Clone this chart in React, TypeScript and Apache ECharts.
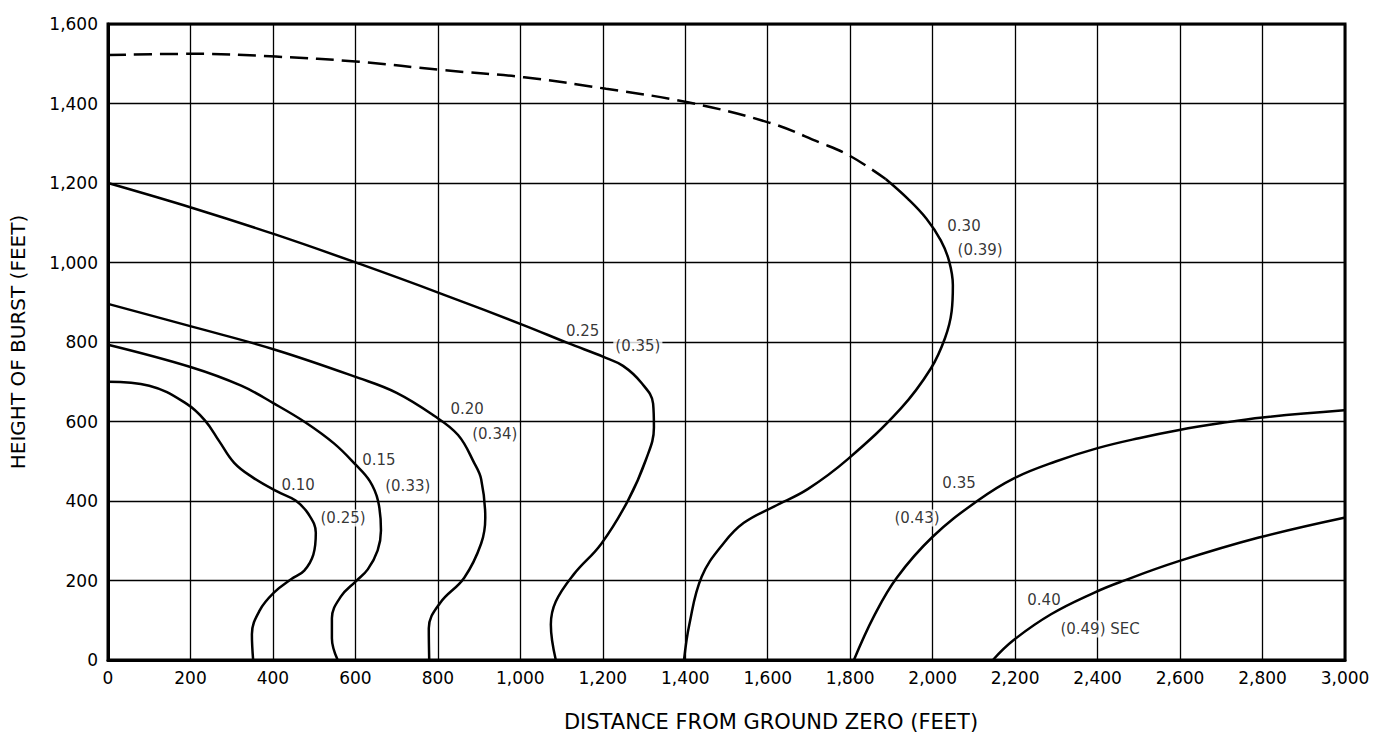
import React, { useEffect, useRef } from "react";
import * as echarts from "echarts";

// Axis ticks (feet)
const xTicks = [0, 200, 400, 600, 800, 1000, 1200, 1400, 1600, 1800, 2000, 2200, 2400, 2600, 2800, 3000];
const yTicks = [0, 200, 400, 600, 800, 1000, 1200, 1400, 1600];

// Contours: [distance from ground zero (ft), height of burst (ft)]
const curve010 = [[0, 700], [100, 690], [190, 645], [235, 603], [270, 550], [306, 496], [350, 460], [410, 424], [455, 401], [487, 366], [504, 320], [498, 265], [476, 225], [444, 203], [403, 170], [368, 125], [349, 65], [352, 0]];
const curve015 = [[0, 793], [200, 737], [323, 690], [403, 645], [480, 597], [548, 545], [600, 492], [635, 450], [655, 400], [662, 326], [654, 276], [630, 228], [601, 198], [565, 160], [543, 105], [543, 55], [557, 0]];
const curve020 = [[0, 896], [206, 838], [407, 780], [609, 709], [700, 672], [790, 615], [849, 566], [888, 496], [905, 455], [915, 358], [905, 293], [864, 207], [805, 143], [778, 80], [779, 0]];
const curve025 = [[0, 1200], [209, 1136], [407, 1070], [609, 997], [812, 920], [1009, 842], [1116, 797], [1203, 762], [1249, 740], [1293, 698], [1322, 645], [1324, 585], [1305, 505], [1261, 401], [1196, 292], [1130, 216], [1086, 147], [1074, 89], [1086, 0]];
const curve030 = [[1397, 0], [1410, 90], [1440, 210], [1494, 295], [1542, 345], [1615, 386], [1697, 430], [1795, 506], [1923, 633], [1996, 734], [2030, 810], [2046, 877], [2049, 943], [2040, 1003], [2020, 1055], [1985, 1110], [1940, 1160], [1886, 1210]];
const curve030Dashed = [[0, 1522], [209, 1525], [407, 1518], [609, 1505], [812, 1484], [1009, 1466], [1208, 1437], [1406, 1403], [1603, 1352], [1726, 1302], [1800, 1268], [1886, 1210]];
const curve035 = [[1809, 0], [1858, 111], [1913, 207], [2000, 310], [2108, 400], [2197, 457], [2300, 500], [2400, 533], [2500, 558], [2595, 578], [2700, 596], [2800, 610], [2998, 628]];
const curve040 = [[2146, 0], [2195, 49], [2287, 115], [2391, 169], [2457, 197], [2595, 248], [2791, 308], [2998, 358]];

// Contour labels: [x (ft), y (ft), text]
const curveLabels = [
  [461, 439, "0.10"],
  [570, 357, "(0.25)"],
  [657, 503, "0.15"],
  [727, 438, "(0.33)"],
  [871, 631, "0.20"],
  [938, 568, "(0.34)"],
  [1151, 828, "0.25"],
  [1285, 789, "(0.35)"],
  [2076, 1092, "0.30"],
  [2115, 1032, "(0.39)"],
  [2064, 445, "0.35"],
  [1962, 357, "(0.43)"],
  [2270, 150, "0.40"],
  [2406, 78, "(0.49) SEC"],
];

const xTitle = "DISTANCE FROM GROUND ZERO (FEET)";
const yTitle = "HEIGHT OF BURST (FEET)";

const FONT = "'DejaVu Sans', sans-serif";

export default function App() {
  const ref = useRef<HTMLDivElement>(null);
  useEffect(() => {
    if (!ref.current) return;
    const chart = echarts.init(ref.current, null, { renderer: "svg" });
    const solid = (data: number[][]) => ({
      type: "line",
      data,
      smooth: 0.4,
      showSymbol: false,
      symbol: "none",
      z: 3,
      lineStyle: { color: "#000", width: 2.5 },
    });
    const fmt = (v: number) => v.toLocaleString("en-US");
    chart.setOption({
      animation: false,
      backgroundColor: "#fff",
      grid: {
        left: 108,
        right: 33,
        top: 24,
        bottom: 76,
        containLabel: false,
        outerBoundsMode: "none",
        show: true,
        borderColor: "#000",
        borderWidth: 3,
        backgroundColor: "transparent",
      },
      xAxis: {
        type: "value",
        min: xTicks[0],
        max: xTicks[xTicks.length - 1],
        interval: xTicks[1] - xTicks[0],
        axisLine: { show: true, lineStyle: { color: "#000", width: 3 } },
        axisTick: { show: false },
        splitLine: { show: true, lineStyle: { color: "#000", width: 1.3 } },
        axisLabel: { color: "#000", fontSize: 17, fontFamily: FONT, margin: 9, formatter: fmt },
      },
      yAxis: {
        type: "value",
        min: yTicks[0],
        max: yTicks[yTicks.length - 1],
        interval: yTicks[1] - yTicks[0],
        name: yTitle,
        nameLocation: "middle",
        nameGap: 80,
        nameTextStyle: { color: "#000", fontSize: 20, fontFamily: FONT },
        axisLine: { show: true, lineStyle: { color: "#000", width: 3 } },
        axisTick: { show: false },
        splitLine: { show: true, lineStyle: { color: "#000", width: 1.3 } },
        axisLabel: { color: "#000", fontSize: 17, fontFamily: FONT, margin: 10, formatter: fmt },
      },
      graphic: [
        {
          type: "text",
          x: 771,
          y: 722,
          style: {
            text: xTitle,
            fill: "#000",
            fontSize: 21,
            fontFamily: FONT,
            align: "center",
            verticalAlign: "middle",
          },
        },
      ],
      series: [
        solid(curve010),
        solid(curve015),
        solid(curve020),
        solid(curve025),
        solid(curve030),
        {
          type: "line",
          data: curve030Dashed,
          smooth: 0.4,
          showSymbol: false,
          symbol: "none",
          z: 3,
          lineStyle: { color: "#000", width: 2.5, type: [18, 8] },
        },
        solid(curve035),
        solid(curve040),
        {
          type: "scatter",
          data: curveLabels,
          symbolSize: 1,
          z: 2,
          itemStyle: { color: "rgba(0,0,0,0)" },
          label: {
            show: true,
            position: "inside",
            formatter: (p: any) => p.data[2],
            color: "#000",
            fontSize: 15,
            fontFamily: FONT,
            backgroundColor: "#fff",
            padding: [1, 2],
          },
        },
      ],
    });
    return () => chart.dispose();
  }, []);
  return <div ref={ref} style={{ position: "fixed", left: 0, top: 0, width: 1378, height: 736 }} />;
}
